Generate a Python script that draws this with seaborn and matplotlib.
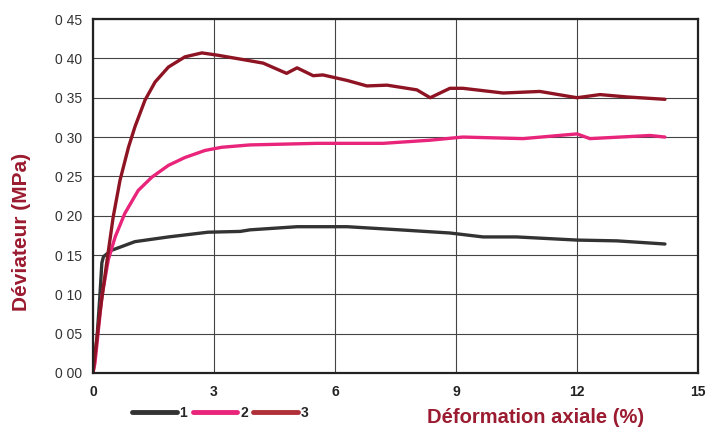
import matplotlib
matplotlib.use("Agg")
import matplotlib.pyplot as plt
import numpy as np
import pandas as pd
import seaborn as sns

# Curve 1 (black)
strain_1 = [0.0, 0.1, 0.17, 0.22, 0.26, 0.46, 0.62, 1.04, 1.87, 2.85, 3.65, 3.89, 5.06,
            6.3, 7.61, 8.85, 9.67, 10.5, 12.0, 12.99, 14.18]
dev_1 = [0.0, 0.045, 0.097, 0.14, 0.148, 0.156, 0.159, 0.167, 0.173, 0.179, 0.180, 0.182, 0.186,
         0.186, 0.182, 0.178, 0.173, 0.173, 0.169, 0.168, 0.164]

# Curve 2 (pink)
strain_2 = [0.0, 0.05, 0.22, 0.38, 0.55, 0.79, 1.12, 1.46, 1.87, 2.28, 2.78, 3.19, 3.89,
            5.55, 7.19, 8.36, 9.17, 10.66, 12.0, 12.32, 13.81, 14.18]
dev_2 = [0.0, 0.013, 0.097, 0.144, 0.173, 0.203, 0.232, 0.249, 0.264, 0.274, 0.283, 0.287, 0.290,
         0.292, 0.292, 0.296, 0.300, 0.298, 0.304, 0.298, 0.302, 0.300]

# Curve 3 (dark red)
strain_3 = [0.0, 0.17, 0.34, 0.5, 0.67, 0.88, 1.04, 1.29, 1.54, 1.87, 2.28, 2.7, 3.1, 3.89,
            4.22, 4.8, 5.06, 5.46, 5.7, 6.3, 6.79, 7.29, 8.03, 8.36, 8.85, 9.17, 10.17,
            11.08, 12.0, 12.57, 13.24, 14.18]
dev_3 = [0.0, 0.076, 0.14, 0.198, 0.245, 0.287, 0.313, 0.347, 0.370, 0.389, 0.402, 0.407, 0.404,
         0.397, 0.394, 0.381, 0.388, 0.378, 0.379, 0.372, 0.365, 0.366, 0.360, 0.350, 0.362,
         0.362, 0.356, 0.358, 0.350, 0.354, 0.351, 0.348]

series_names = ["1", "2", "3"]
series_colors = ["#333333", "#E8257A", "#8E1424"]

x_ticks = [0, 3, 6, 9, 12, 15]
y_ticks = [0.0, 0.05, 0.10, 0.15, 0.20, 0.25, 0.30, 0.35, 0.40, 0.45]
y_tick_labels = ["0 00", "0 05", "0 10", "0 15", "0 20", "0 25", "0 30", "0 35", "0 40", "0 45"]

frames = []
for name, xs, ys in zip(series_names, [strain_1, strain_2, strain_3], [dev_1, dev_2, dev_3]):
    frames.append(pd.DataFrame({"strain": xs, "dev": ys, "courbe": name}))
df = pd.concat(frames, ignore_index=True)

sns.set_theme(style="white")
plt.rcParams["font.family"] = ["Liberation Sans", "DejaVu Sans"]

fig = plt.figure(figsize=(7.06, 4.30), dpi=100)
ax = fig.add_axes([0.1317, 0.1326, 0.857, 0.823])

sns.lineplot(data=df, x="strain", y="dev", hue="courbe", palette=series_colors,
             sort=False, estimator=None, linewidth=2.4, ax=ax, legend=False)

ax.set_xlim(0, 15)
ax.set_ylim(0, 0.45)
ax.set_xticks(x_ticks)
ax.set_xticklabels([str(t) for t in x_ticks], fontsize=10, fontweight="bold", color="#222222")
ax.set_yticks(y_ticks)
ax.set_yticklabels(y_tick_labels, fontsize=10, color="#333333")
ax.grid(True, color="#444444", linewidth=0.8)
ax.tick_params(axis="y", length=0, pad=8)
ax.tick_params(axis="x", length=0, pad=9)
for side, spine in ax.spines.items():
    spine.set_color("#222222")
    spine.set_linewidth(1.6)
ax.set_xlabel("")
ax.set_ylabel("")

fig.text(0.031, 0.46, "Déviateur (MPa)", rotation=90, ha="center", va="center",
         fontsize=15, fontweight="bold", color="#9B1B30")
fig.text(0.758, 0.03, "Déformation axiale (%)", ha="center", va="center",
         fontsize=14.5, fontweight="bold", color="#9B1B30")

handles = [plt.Line2D([], [], color=c, linewidth=3.5) for c in ["#333333", "#E8257A", "#B0303A"]]
leg = fig.legend(handles, series_names, loc="center", bbox_to_anchor=(0.312, 0.04), ncol=3,
                 frameon=False, handlelength=3.2, handletextpad=0.2, columnspacing=0.4,
                 prop={"weight": "bold", "size": 10})

fig.savefig("out.png", dpi=100)
